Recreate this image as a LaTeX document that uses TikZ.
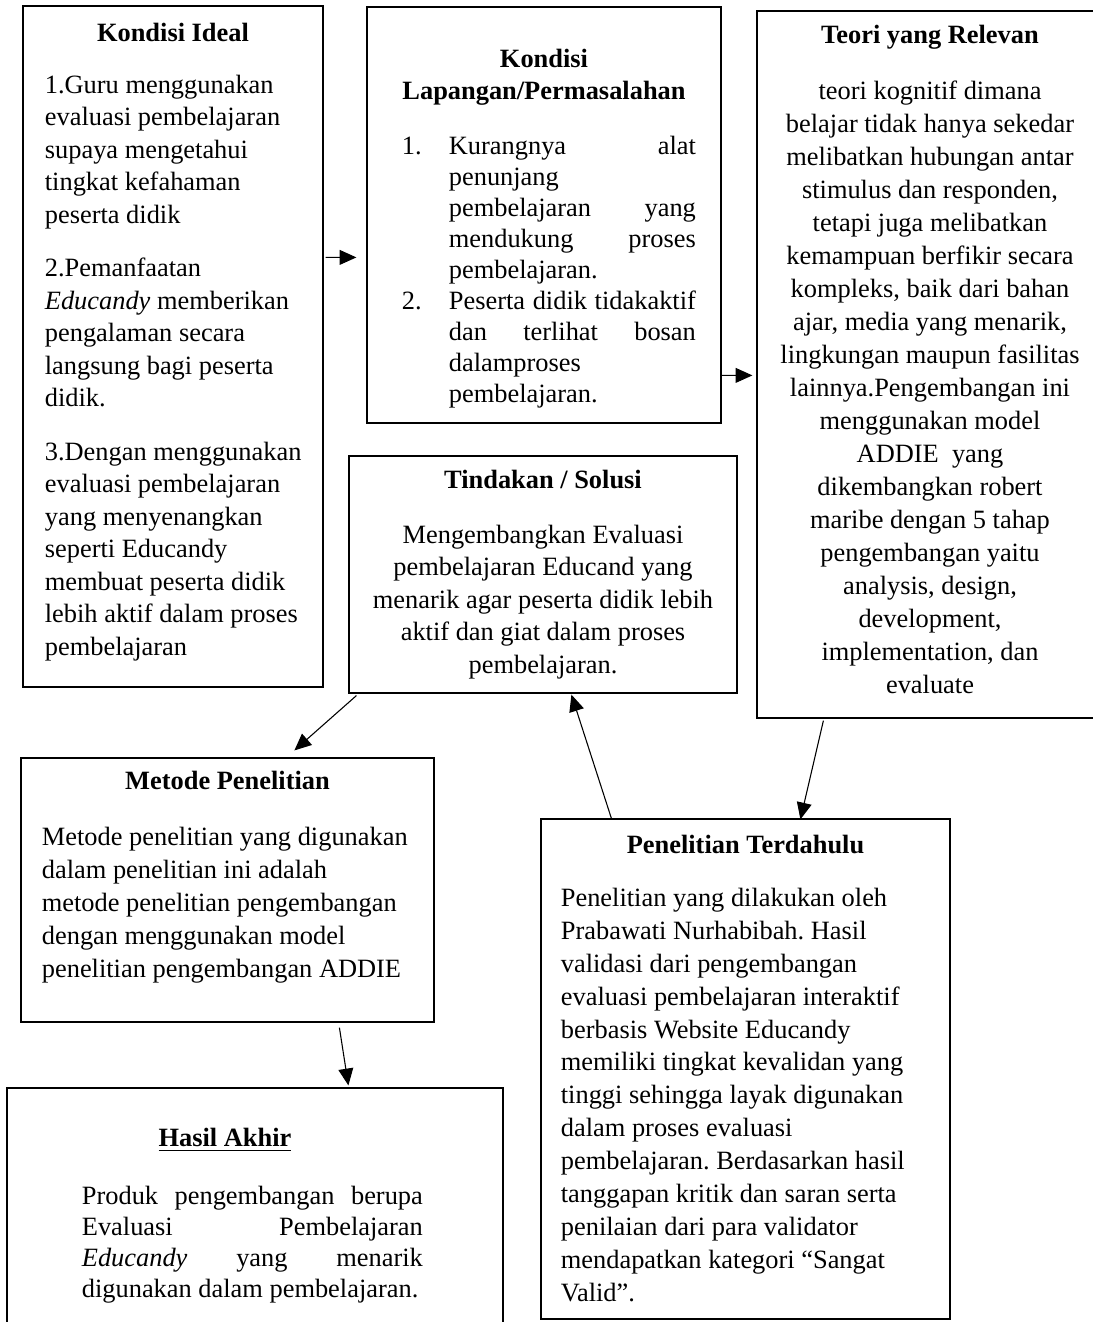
\documentclass[tikz,border=0pt]{standalone}
\usepackage{fontspec}
\setmainfont{Liberation Serif}
\usetikzlibrary{arrows.meta, positioning, fit}
\newdimen\pxu
\pxu=0.41667pt
\newcommand{\numcol}[1]{\makebox[47\pxu][l]{#1}}
\newcommand{\listindent}{\hspace*{47\pxu}}
\newcommand{\fillrow}[2][247\pxu]{\makebox[#1][l]{#2}}
\newcommand{\natspace}{\spaceskip=0.25em plus 0.125em minus 0.083em\relax}
\frenchspacing

\begin{document}
\begin{tikzpicture}[
    x=0.41667pt, y=-0.41667pt,
    box/.style={draw, line width=0.5pt, inner sep=0pt},
    head/.style={font=\fontsize{11pt}{13.75pt}\selectfont\bfseries, anchor=base, inner sep=0pt, execute at begin node=\natspace},
    body/.style={font=\fontsize{11pt}{13.75pt}\selectfont, anchor=base west, inner sep=0pt, execute at begin node=\natspace},
    arrow/.style={-{Triangle[length=7pt, width=6.2pt]}, line width=0.45pt}
]
\useasboundingbox (0,0) rectangle (1092,1322);

% Boxes
\node[box, fit={(23,6) (323,687)}] (ideal) {};
\node[box, fit={(367,7) (721,423)}] (lapangan) {};
\node[box, fit={(757,11) (1103,718)}] (teori) {};
\node[box, fit={(349,456) (737,693)}] (tindakan) {};
\node[box, fit={(21,758) (434,1022)}] (metode) {};
\node[box, fit={(541,819) (950,1319)}] (penelitian) {};
\node[box, fit={(7,1088) (503,1325)}] (hasil) {};

% Headings
\node[head] (idealhead) at ([shift={(0,36)}]ideal.north) {Kondisi Ideal};
\node[head, text width=300\pxu, align=center, font=\fontsize{11pt}{13.33pt}\selectfont\bfseries] (lapanganhead) at ([shift={(0,61)}]lapangan.north) {Kondisi\\Lapangan/Permasalahan};
\node[head] (teorihead) at ([shift={(0,33)}]teori.north) {Teori yang Relevan};
\node[head] (tindakanhead) at ([shift={(0,33)}]tindakan.north) {Tindakan / Solusi};
\node[head] (metodehead) at ([shift={(0,32)}]metode.north) {Metode Penelitian};
\node[head] (penelitianhead) at ([shift={(0,35)}]penelitian.north) {Penelitian Terdahulu};
\node[head] (hasilhead) at ([shift={(-30,59)}]hasil.north) {\underline{Hasil Akhir}};

% Texts
\node[body, text width=270\pxu, font=\fontsize{11pt}{13.54pt}\selectfont] (idealtext) at ([shift={(22,88)}]ideal.north west) {1.Guru menggunakan\\evaluasi pembelajaran\\supaya mengetahui\\tingkat kefahaman\\peserta didik\\[21\pxu]
2.Pemanfaatan\\\textit{Educandy} memberikan\\pengalaman secara\\langsung bagi peserta\\didik.\\[21\pxu]
3.Dengan menggunakan\\evaluasi pembelajaran\\yang menyenangkan\\seperti Educandy\\membuat peserta didik\\lebih aktif dalam proses\\pembelajaran};
\node[body, text width=294\pxu, font=\fontsize{11pt}{12.92pt}\selectfont] (lapangantext) at ([shift={(35,148)}]lapangan.north west) {\numcol{1.}\fillrow{Kurangnya\hfill alat}\\
\listindent penunjang\\
\listindent\fillrow{pembelajaran\hfill yang}\\
\listindent\fillrow{mendukung\hfill proses}\\
\listindent pembelajaran.\\
\numcol{2.}\fillrow{Peserta\hfill didik\hfill tidakaktif}\\
\listindent\fillrow{dan\hfill terlihat\hfill bosan}\\
\listindent dalamproses\\
\listindent pembelajaran.};
\node[body, anchor=base, text width=330\pxu] (teoritext) at ([shift={(0,89)}]teori.north) {\centering teori kognitif dimana\\belajar tidak hanya sekedar\\melibatkan hubungan antar\\stimulus dan responden,\\tetapi juga melibatkan\\kemampuan berfikir secara\\kompleks, baik dari bahan\\ajar, media yang menarik,\\lingkungan maupun fasilitas\\lainnya.Pengembangan ini\\menggunakan model\\ADDIE\ \ yang\\dikembangkan robert\\maribe dengan 5 tahap\\pengembangan yaitu\\analysis, design,\\development,\\implementation, dan\\evaluate\par};
\node[body, anchor=base, text width=370\pxu, font=\fontsize{11pt}{13.54pt}\selectfont] (tindakantext) at ([shift={(0,88)}]tindakan.north) {\centering Mengembangkan Evaluasi\\pembelajaran Educand yang\\menarik agar peserta didik lebih\\aktif dan giat dalam proses\\pembelajaran.\par};
\node[body, text width=385\pxu] (metodetext) at ([shift={(21,88)}]metode.north west) {Metode penelitian yang digunakan\\dalam penelitian ini adalah\\metode penelitian pengembangan\\dengan menggunakan model\\penelitian pengembangan ADDIE};
\node[body, text width=380\pxu, font=\fontsize{11pt}{13.71pt}\selectfont] (penelitiantext) at ([shift={(20,88)}]penelitian.north west) {Penelitian yang dilakukan oleh\\Prabawati Nurhabibah. Hasil\\validasi dari pengembangan\\evaluasi pembelajaran interaktif\\berbasis Website Educandy\\memiliki tingkat kevalidan yang\\tinggi sehingga layak digunakan\\dalam proses evaluasi\\pembelajaran. Berdasarkan hasil\\tanggapan kritik dan saran serta\\penilaian dari para validator\\mendapatkan kategori “Sangat\\Valid”.};
\node[body, text width=341\pxu, font=\fontsize{11pt}{12.92pt}\selectfont] (hasiltext) at ([shift={(75,117)}]hasil.north west) {\fillrow[341\pxu]{Produk\hfill pengembangan\hfill berupa}\\
\fillrow[341\pxu]{Evaluasi\hfill Pembelajaran}\\
\fillrow[341\pxu]{\textit{Educandy}\hfill yang\hfill menarik}\\
digunakan dalam pembelajaran.};

% Arrows
\draw[arrow] ([shift={(2,252)}]ideal.north east) -- ([shift={(-10,251)}]lapangan.north west);
\draw[arrow] ([shift={(0,369)}]lapangan.north east) -- ([shift={(-4,365)}]teori.north west);
\draw[arrow] ([shift={(8,2)}]tindakan.south west) -- ([shift={(274,-7)}]metode.north west);
\draw[arrow] ([shift={(319,5)}]metode.south west) -- ([shift={(342,-2)}]hasil.north west);
\draw[arrow] ([shift={(71,0)}]penelitian.north west) -- ([shift={(223,1)}]tindakan.south west);
\draw[arrow] ([shift={(67,2)}]teori.south west) -- ([shift={(260,1)}]penelitian.north west);

\end{tikzpicture}
\end{document}
